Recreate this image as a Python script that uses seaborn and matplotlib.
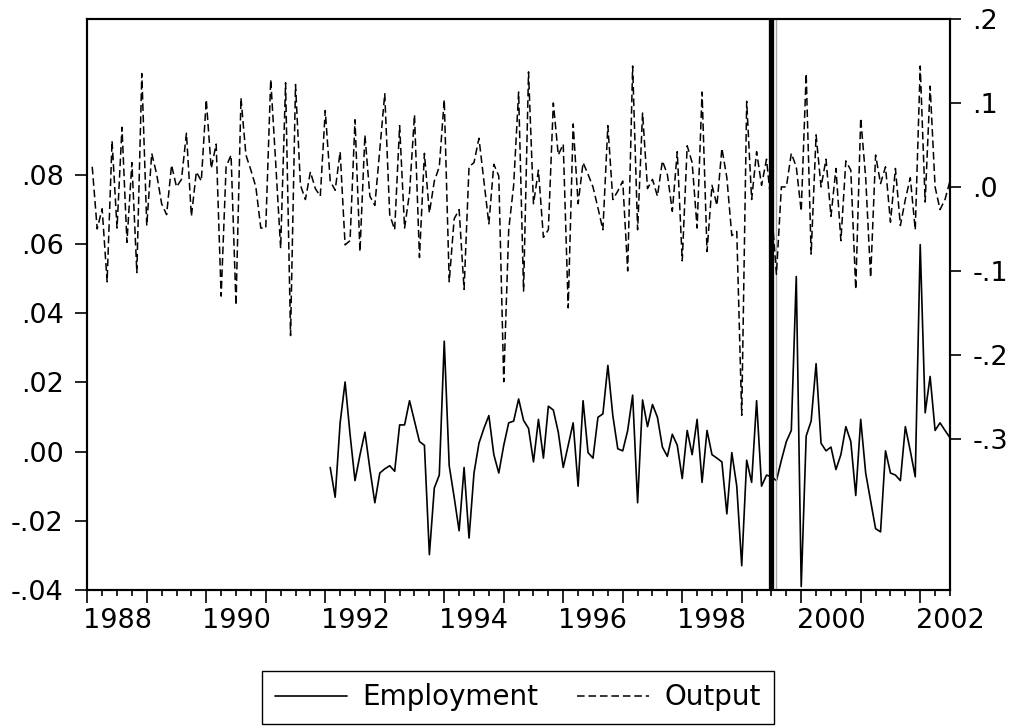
import numpy as np
import pandas as pd
import seaborn as sns
import matplotlib
matplotlib.use("Agg")
from matplotlib import pyplot as plt
from matplotlib.lines import Line2D

# monthly growth rates, output 1988:01-2002:06, employment 1992:01-2002:06
output = [
    0.024, -0.050, -0.026, -0.113, 0.055, -0.049, 0.071, -0.066, 0.029, -0.102,
    0.135, -0.046, 0.040, 0.015, -0.020, -0.033, 0.026, 0.000, 0.009, 0.064,
    -0.035, 0.018, 0.007, 0.104, 0.022, 0.051, -0.130, 0.024, 0.038, -0.141,
    0.106, 0.038, 0.020, 0.000, -0.049, -0.049, 0.128, 0.029, -0.073, 0.124,
    -0.177, 0.122, 0.002, -0.015, 0.018, -0.002, -0.011, 0.091, 0.007, -0.004,
    0.042, -0.069, -0.064, 0.080, -0.077, 0.062, -0.011, -0.022, 0.045, 0.111,
    -0.033, -0.051, 0.073, -0.049, -0.007, 0.086, -0.084, 0.040, -0.031, 0.007,
    0.024, 0.104, -0.113, -0.038, -0.027, -0.122, 0.024, 0.029, 0.058, 0.007,
    -0.044, 0.027, 0.013, -0.232, -0.051, 0.002, 0.113, -0.124, 0.137, -0.020,
    0.020, -0.060, -0.051, 0.100, 0.038, 0.051, -0.144, 0.075, -0.020, 0.029,
    0.015, 0.000, -0.025, -0.051, 0.073, -0.015, -0.005, 0.007, -0.100, 0.144,
    -0.051, 0.088, -0.002, 0.009, -0.011, 0.031, 0.015, -0.029, 0.042, -0.088,
    0.049, 0.029, -0.049, 0.113, -0.077, 0.002, -0.022, 0.046, 0.011, -0.058,
    -0.053, -0.272, 0.102, -0.015, 0.042, 0.002, 0.033, -0.024, -0.104, 0.000,
    0.000, 0.040, 0.024, -0.029, 0.135, -0.080, 0.062, 0.000, 0.033, -0.035,
    0.022, -0.064, 0.031, 0.020, -0.122, 0.082, 0.011, -0.108, 0.038, 0.004,
    0.024, -0.042, 0.022, -0.046, -0.015, 0.011, -0.051, 0.144, -0.018, 0.120,
    0.000, -0.027, -0.015, 0.007,
]
employment = [
    -0.0046, -0.0132, 0.0083, 0.0201, 0.0050, -0.0084, -0.0010, 0.0056, -0.0050, -0.0148,
    -0.0062, -0.0050, -0.0041, -0.0057, 0.0077, 0.0077, 0.0147, 0.0088, 0.0029, 0.0018,
    -0.0298, -0.0105, -0.0068, 0.0319, -0.0041, -0.0132, -0.0229, -0.0046, -0.0250, -0.0062,
    0.0024, 0.0067, 0.0104, -0.0009, -0.0062, 0.0018, 0.0083, 0.0088, 0.0152, 0.0090,
    0.0067, -0.0030, 0.0093, -0.0019, 0.0131, 0.0120, 0.0056, -0.0046, 0.0018, 0.0083,
    -0.0100, 0.0147, -0.0003, -0.0019, 0.0099, 0.0109, 0.0249, 0.0104, 0.0008, 0.0002,
    0.0061, 0.0163, -0.0148, 0.0149, 0.0072, 0.0136, 0.0099, 0.0013, -0.0014, 0.0050,
    0.0018, -0.0078, 0.0061, -0.0009, 0.0093, -0.0089, 0.0061, -0.0009, -0.0019, -0.0030,
    -0.0180, -0.0003, -0.0100, -0.0330, -0.0025, -0.0089, 0.0147, -0.0100, -0.0068, -0.0073,
    -0.0084, -0.0025, 0.0029, 0.0061, 0.0506, -0.0390, 0.0045, 0.0088, 0.0254, 0.0024,
    0.0002, 0.0013, -0.0052, -0.0009, 0.0072, 0.0029, -0.0127, 0.0093, -0.0062, -0.0143,
    -0.0223, -0.0232, 0.0002, -0.0062, -0.0068, -0.0084, 0.0072, 0.0002, -0.0073, 0.0598,
    0.0112, 0.0217, 0.0061, 0.0083, 0.0061, 0.0040,
]
output_start = 1988
employment_start = 1992

left_ticks = [-0.04, -0.02, 0.0, 0.02, 0.04, 0.06, 0.08]
left_labels = ['-.04', '-.02', '.00', '.02', '.04', '.06', '.08']
right_ticks = [-0.3, -0.2, -0.1, 0.0, 0.1, 0.2]
right_labels = ['-.3', '-.2', '-.1', '.0', '.1', '.2']
year_labels = ['1988', '1990', '1992', '1994', '1996', '1998', '2000', '2002']
break_lines = [1999.494, 1999.572]

# monthly obs sit at the end of their month
out_df = pd.DataFrame({'date': output_start + (np.arange(len(output)) + 1) / 12.0,
                       'Output': output})
emp_df = pd.DataFrame({'date': employment_start + (np.arange(len(employment)) + 1) / 12.0,
                       'Employment': employment})

sns.set_style("ticks")
plt.rcParams['font.family'] = ['DejaVu Sans']
plt.rcParams['axes.linewidth'] = 1.5
for key in ('text.color', 'xtick.color', 'ytick.color', 'axes.edgecolor', 'axes.labelcolor'):
    plt.rcParams[key] = 'black'

fig = plt.figure(figsize=(10.16, 7.28), dpi=100)
ax = fig.add_axes([0.0859, 0.1896, 0.8491, 0.7843])
ax2 = ax.twinx()

sns.lineplot(data=emp_df, x='date', y='Employment', ax=ax, color='black',
             lw=1.2, estimator=None)
sns.lineplot(data=out_df, x='date', y='Output', ax=ax2, color='black',
             lw=1.1, estimator=None)
ax2.lines[0].set_dashes([5, 2.5])

ax.axvline(break_lines[0], color='black', lw=3.8, zorder=5)
ax.axvline(break_lines[1], color='0.65', lw=1.0, zorder=5)

ax.set_xlim(1988, 2002.5)
ax.set_ylim(-0.04, 0.125)
ax2.set_ylim(-0.48, 0.2)

ax.set_yticks(left_ticks, labels=left_labels)
ax2.set_yticks(right_ticks, labels=right_labels)

years = list(range(1988, 2003))
ax.set_xticks(years, labels=[''] * len(years))
quarters = [y + q / 4 for y in years for q in (1, 2, 3) if y + q / 4 <= 2002.5]
qlabels = [str(int(q)) if str(int(q)) in year_labels and q % 1 == 0.5 else '' for q in quarters]
ax.set_xticks(quarters, labels=qlabels, minor=True)

ax.set_xlabel('')
ax.set_ylabel('')
ax2.set_ylabel('')

ax.tick_params(axis='x', which='major', direction='out', length=9, width=1.2, color='black')
ax.tick_params(axis='x', which='minor', direction='out', length=4, width=1.2,
               pad=9, labelsize=19.5, colors='black')
ax.tick_params(axis='y', direction='out', length=9, width=1.2, pad=8, labelsize=19.5,
               colors='black')
ax2.tick_params(axis='y', direction='out', length=8, width=1.2, pad=8, labelsize=19.5,
                colors='black')

for a in (ax, ax2):
    for s in a.spines.values():
        s.set_linewidth(1.5)
        s.set_color('black')

handles = [Line2D([], [], color='black', lw=1.2),
           Line2D([], [], color='black', lw=1.1, dashes=[5, 2.5])]
leg = fig.legend(handles=handles, labels=['Employment', 'Output'], loc='center',
                 bbox_to_anchor=(0.5098, 0.042), ncol=2, frameon=True, fancybox=False,
                 edgecolor='black', framealpha=1, handlelength=2.6, handletextpad=0.55,
                 columnspacing=1.4, borderpad=0.45, borderaxespad=0, fontsize=20)
leg.get_frame().set_linewidth(1.0)
for t in leg.get_texts():
    t.set_color('black')

fig.savefig('out.png', dpi=100)
